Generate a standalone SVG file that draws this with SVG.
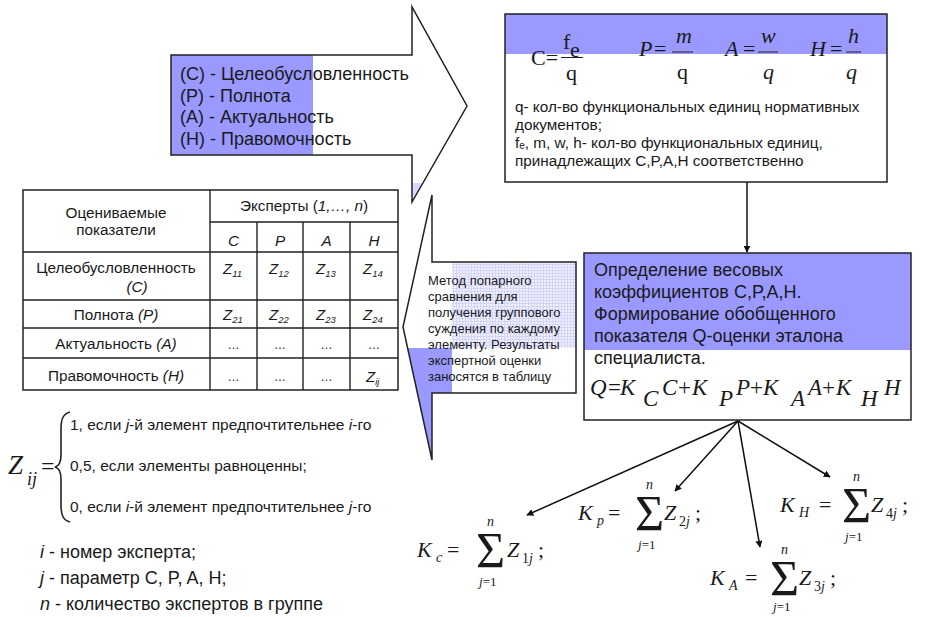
<svg xmlns="http://www.w3.org/2000/svg" width="929" height="617" viewBox="0 0 929 617">
<style>
.s{font-family:"Liberation Sans",Arial,sans-serif;fill:#1a1a1a}
.m{font-family:"Liberation Serif","Times New Roman",serif;fill:#1a1a1a}
.i{font-style:italic}
.ln{stroke:#222;stroke-width:1.4;fill:none}
.sh{stroke:#222;stroke-width:1.5;fill:none}
.blue{fill:#9999ff}
.c{text-anchor:middle}
.con{stroke:#111;stroke-width:1.5;fill:none;marker-end:url(#ah)}
</style>
<defs>
<marker id="ah" viewBox="0 0 10 10" refX="9" refY="5" markerWidth="7" markerHeight="7" orient="auto" markerUnits="userSpaceOnUse">
<path d="M0,0 L10,5 L0,10 Z" fill="#111"/>
</marker>
<pattern id="grid" width="3" height="3" patternUnits="userSpaceOnUse">
<rect width="3" height="3" fill="#f2f2ff"/>
<path d="M0,0.5 H3 M0.5,0 V3" stroke="#d4d4fb" stroke-width="1"/>
</pattern>
</defs>
<rect width="929" height="617" fill="#fff"/>

<!-- Top right-pointing arrow -->
<g id="arrow-criteria">
<path d="M171,55 H412 V7 L467,106 L412,202 V155 H171 Z" fill="#fff"/>
<rect x="171" y="55" width="142" height="100" class="blue"/>
<polygon points="412.5,183 422.5,183 412.5,201" fill="#d8d8fc"/>
<path d="M171,55 H412 V7 L467,106 L412,202 V155 H171 Z" class="sh"/>
<text class="s" font-size="18"><tspan x="180" y="80">(C) - Целеобусловленность</tspan><tspan x="180" y="101.5">(P) - Полнота</tspan><tspan x="180" y="123">(A) - Актуальность</tspan><tspan x="180" y="145">(H) - Правомочность</tspan></text>
</g>

<!-- Top right box with formulas -->
<g id="box-formulas">
<rect x="505" y="14" width="382" height="168" fill="#fff"/>
<rect x="505" y="14" width="382" height="40" class="blue"/>
<rect x="505" y="14" width="382" height="168" class="sh"/>
<text class="m" font-size="22" x="531" y="65">C=</text>
<text class="m" font-size="22" x="563" y="49">f</text>
<text class="m" font-size="22" x="570" y="57">e</text>
<line x1="561" y1="57.5" x2="583" y2="57.5" stroke="#222" stroke-width="1"/>
<text class="m" font-size="22" x="566" y="80">q</text>
<text class="m i" font-size="22" x="639" y="56">P</text>
<text class="m" font-size="22" x="654" y="56">=</text>
<text class="m i" font-size="22" x="676" y="43">m</text>
<line x1="672" y1="52" x2="693" y2="52" stroke="#222" stroke-width="1"/>
<text class="m" font-size="22" x="677" y="79">q</text>
<text class="m i" font-size="22" x="725" y="56">A</text>
<text class="m" font-size="22" x="743" y="56">=</text>
<text class="m i" font-size="22" x="761" y="43">w</text>
<line x1="758" y1="52" x2="778" y2="52" stroke="#222" stroke-width="1"/>
<text class="m i" font-size="22" x="763" y="79">q</text>
<text class="m i" font-size="22" x="810" y="56">H</text>
<text class="m" font-size="22" x="830" y="56">=</text>
<text class="m i" font-size="22" x="848" y="43">h</text>
<line x1="846" y1="52" x2="861" y2="52" stroke="#222" stroke-width="1"/>
<text class="m i" font-size="22" x="846" y="79">q</text>
<text class="s" font-size="15.3"><tspan x="515" y="112">q- кол-во функциональных единиц нормативных</tspan><tspan x="515" y="130">документов;</tspan><tspan x="515" y="148">f<tspan font-size="10" dy="1">e</tspan><tspan dy="-1">, m, w, h- кол-во функциональных единиц,</tspan></tspan><tspan x="515" y="166">принадлежащих C,P,A,H соответственно</tspan></text>
</g>

<!-- Table -->
<g id="table">
<rect x="23" y="190" width="375" height="200" fill="#fff" class="sh"/>
<path d="M210,190 V390 M257,222 V390 M303,222 V390 M350,222 V390 M210,222 H398 M23,252 H398 M23,300 H398 M23,328 H398 M23,358 H398" class="ln"/>
<g class="s c" font-size="15.3">
<text x="116" y="218">Оцениваемые</text>
<text x="116" y="235">показатели</text>
<text x="304" y="211">Эксперты (<tspan class="i">1,…, n</tspan>)</text>
<text class="i" x="233.5" y="246">C</text>
<text class="i" x="280" y="246">P</text>
<text class="i" x="326.5" y="246">A</text>
<text class="i" x="374" y="246">H</text>
<text x="116" y="273">Целеобусловленность</text>
<text class="i" x="137" y="292">(C)</text>
<text x="116" y="320">Полнота <tspan class="i">(P)</tspan></text>
<text x="116" y="349">Актуальность <tspan class="i">(A)</tspan></text>
<text x="116" y="381">Правомочность <tspan class="i">(H)</tspan></text>
</g>
<g class="s i" font-size="15">
<text x="223" y="274">Z<tspan font-size="9.5" dy="3">11</tspan></text>
<text x="269" y="274">Z<tspan font-size="9.5" dy="3">12</tspan></text>
<text x="316" y="274">Z<tspan font-size="9.5" dy="3">13</tspan></text>
<text x="363" y="274">Z<tspan font-size="9.5" dy="3">14</tspan></text>
<text x="223" y="320">Z<tspan font-size="9.5" dy="3">21</tspan></text>
<text x="269" y="320">Z<tspan font-size="9.5" dy="3">22</tspan></text>
<text x="316" y="320">Z<tspan font-size="9.5" dy="3">23</tspan></text>
<text x="363" y="320">Z<tspan font-size="9.5" dy="3">24</tspan></text>
<text x="366" y="382">Z<tspan font-size="9.5" dy="3">ij</tspan></text>
</g>
<g class="s c" font-size="12" fill="#555">
<text x="233.5" y="349">…</text><text x="280" y="349">…</text><text x="326.5" y="349">…</text><text x="374" y="349">…</text>
<text x="233.5" y="381">…</text><text x="280" y="381">…</text><text x="326.5" y="381">…</text>
</g>
</g>

<!-- Left-pointing arrow (method) -->
<g id="arrow-method">
<path d="M576,262 H432 V195 L403,327 L432,460 V393 H576 Z" fill="#fff"/>
<rect x="452" y="262" width="124" height="86" fill="url(#grid)"/>
<polygon points="407.6,348 452,348 452,393 432,393 432,460" class="blue"/>
<path d="M576,262 H432 V195 L403,327 L432,460 V393 H576 Z" class="sh"/>
<text class="s" font-size="13"><tspan x="428" y="285">Метод попарного</tspan><tspan x="428" y="301">сравнения для</tspan><tspan x="428" y="317">получения группового</tspan><tspan x="428" y="333">суждения по каждому</tspan><tspan x="428" y="349">элементу. Результаты</tspan><tspan x="428" y="365">экспертной оценки</tspan><tspan x="428" y="381">заносятся в таблицу</tspan></text>
</g>

<!-- Bottom right box -->
<g id="box-weights">
<rect x="584" y="253" width="327" height="167" fill="#fff"/>
<rect x="584" y="253" width="327" height="97" class="blue"/>
<rect x="584" y="253" width="327" height="167" class="sh"/>
<text class="s" font-size="18"><tspan x="594" y="276">Определение весовых</tspan><tspan x="594" y="298">коэффициентов C,P,A,H.</tspan><tspan x="594" y="320">Формирование обобщенного</tspan><tspan x="594" y="342">показателя Q-оценки эталона</tspan><tspan x="594" y="364">специалиста.</tspan></text>
<text class="m i" font-size="23"><tspan x="590" y="395">Q</tspan><tspan x="608" y="395" font-style="normal">=</tspan><tspan x="620" y="395">K</tspan><tspan x="643" y="406">C</tspan><tspan x="662" y="395">C</tspan><tspan x="678" y="395" font-style="normal">+</tspan><tspan x="692" y="395">K</tspan><tspan x="719" y="406">P</tspan><tspan x="736" y="395">P</tspan><tspan x="750" y="395" font-style="normal">+</tspan><tspan x="763" y="395">K</tspan><tspan x="791" y="406">A</tspan><tspan x="808" y="395">A</tspan><tspan x="822" y="395" font-style="normal">+</tspan><tspan x="836" y="395">K</tspan><tspan x="861" y="406">H</tspan><tspan x="884" y="395">H</tspan></text>
</g>

<!-- Z_ij definition -->
<g id="zij-def">
<text class="m i" font-size="27" x="8" y="474">Z</text>
<text class="m i" font-size="18" x="27" y="485">ij</text>
<text class="m" font-size="24" x="41" y="474">=</text>
<path d="M70,412 C63,414 61,419 61,429 V455 C61,462 59,466 55,467 C59,468 61,472 61,479 V505 C61,515 63,520 70,522" stroke="#222" stroke-width="1.6" fill="none"/>
<text class="s" font-size="15.5"><tspan x="70" y="430">1, если <tspan class="i">j</tspan>-й элемент предпочтительнее <tspan class="i">i</tspan>-го</tspan><tspan x="70" y="471">0,5, если элементы равноценны;</tspan><tspan x="70" y="512">0, если <tspan class="i">i</tspan>-й элемент предпочтительнее <tspan class="i">j</tspan>-го</tspan></text>
</g>

<!-- Legend -->
<g id="legend">
<text class="s" font-size="18"><tspan x="40" y="558"><tspan class="i">i</tspan> - номер эксперта;</tspan><tspan x="40" y="584"><tspan class="i">j</tspan> - параметр C, P, A, H;</tspan><tspan x="40" y="610"><tspan class="i">n</tspan> - количество экспертов в группе</tspan></text>
</g>

<!-- K formulas -->
<g id="formula-Kc" transform="translate(417,557)">
<text class="m i" font-size="22" x="0" y="0">K</text>
<text class="m i" font-size="14" x="19" y="5">c</text>
<text class="m" font-size="22" x="30" y="0">=</text>
<text class="m" font-size="50" x="59" y="10">Σ</text>
<text class="m i" font-size="14" x="70" y="-31">n</text>
<text class="m" font-size="13" x="62" y="29"><tspan class="i">j</tspan>=1</text>
<text class="m i" font-size="22" x="90" y="0">Z</text>
<text class="m" font-size="14" x="105" y="6">1<tspan class="i">j</tspan></text>
<text class="m" font-size="22" x="121" y="0">;</text>
</g>
<g id="formula-Kp" transform="translate(578,520)">
<text class="m i" font-size="22" x="0" y="0">K</text>
<text class="m i" font-size="14" x="19" y="5">p</text>
<text class="m" font-size="22" x="30" y="0">=</text>
<text class="m" font-size="50" x="57" y="10">Σ</text>
<text class="m i" font-size="14" x="68" y="-31">n</text>
<text class="m" font-size="13" x="60" y="29"><tspan class="i">j</tspan>=1</text>
<text class="m i" font-size="22" x="86" y="0">Z</text>
<text class="m" font-size="14" x="101" y="6">2<tspan class="i">j</tspan></text>
<text class="m" font-size="22" x="117" y="0">;</text>
</g>
<g id="formula-KA" transform="translate(710,585)">
<text class="m i" font-size="22" x="0" y="0">K</text>
<text class="m i" font-size="14" x="19" y="5">A</text>
<text class="m" font-size="22" x="35" y="0">=</text>
<text class="m" font-size="50" x="60" y="10">Σ</text>
<text class="m i" font-size="14" x="71" y="-31">n</text>
<text class="m" font-size="13" x="63" y="26"><tspan class="i">j</tspan>=1</text>
<text class="m i" font-size="22" x="89" y="0">Z</text>
<text class="m" font-size="14" x="104" y="6">3<tspan class="i">j</tspan></text>
<text class="m" font-size="22" x="120" y="0">;</text>
</g>
<g id="formula-KH" transform="translate(780,512)">
<text class="m i" font-size="22" x="0" y="0">K</text>
<text class="m i" font-size="14" x="19" y="5">H</text>
<text class="m" font-size="22" x="39" y="0">=</text>
<text class="m" font-size="50" x="62" y="10">Σ</text>
<text class="m i" font-size="14" x="73" y="-31">n</text>
<text class="m" font-size="13" x="65" y="29"><tspan class="i">j</tspan>=1</text>
<text class="m i" font-size="22" x="91" y="0">Z</text>
<text class="m" font-size="14" x="106" y="6">4<tspan class="i">j</tspan></text>
<text class="m" font-size="22" x="122" y="0">;</text>
</g>

<!-- Connectors -->
<g id="connectors">
<line class="con" x1="747" y1="182" x2="747" y2="252"/>
<line class="con" x1="738" y1="421" x2="527" y2="515"/>
<line class="con" x1="738" y1="421" x2="675" y2="491"/>
<line class="con" x1="738" y1="421" x2="760" y2="547"/>
<line class="con" x1="738" y1="421" x2="830" y2="477"/>
</g>
</svg>
